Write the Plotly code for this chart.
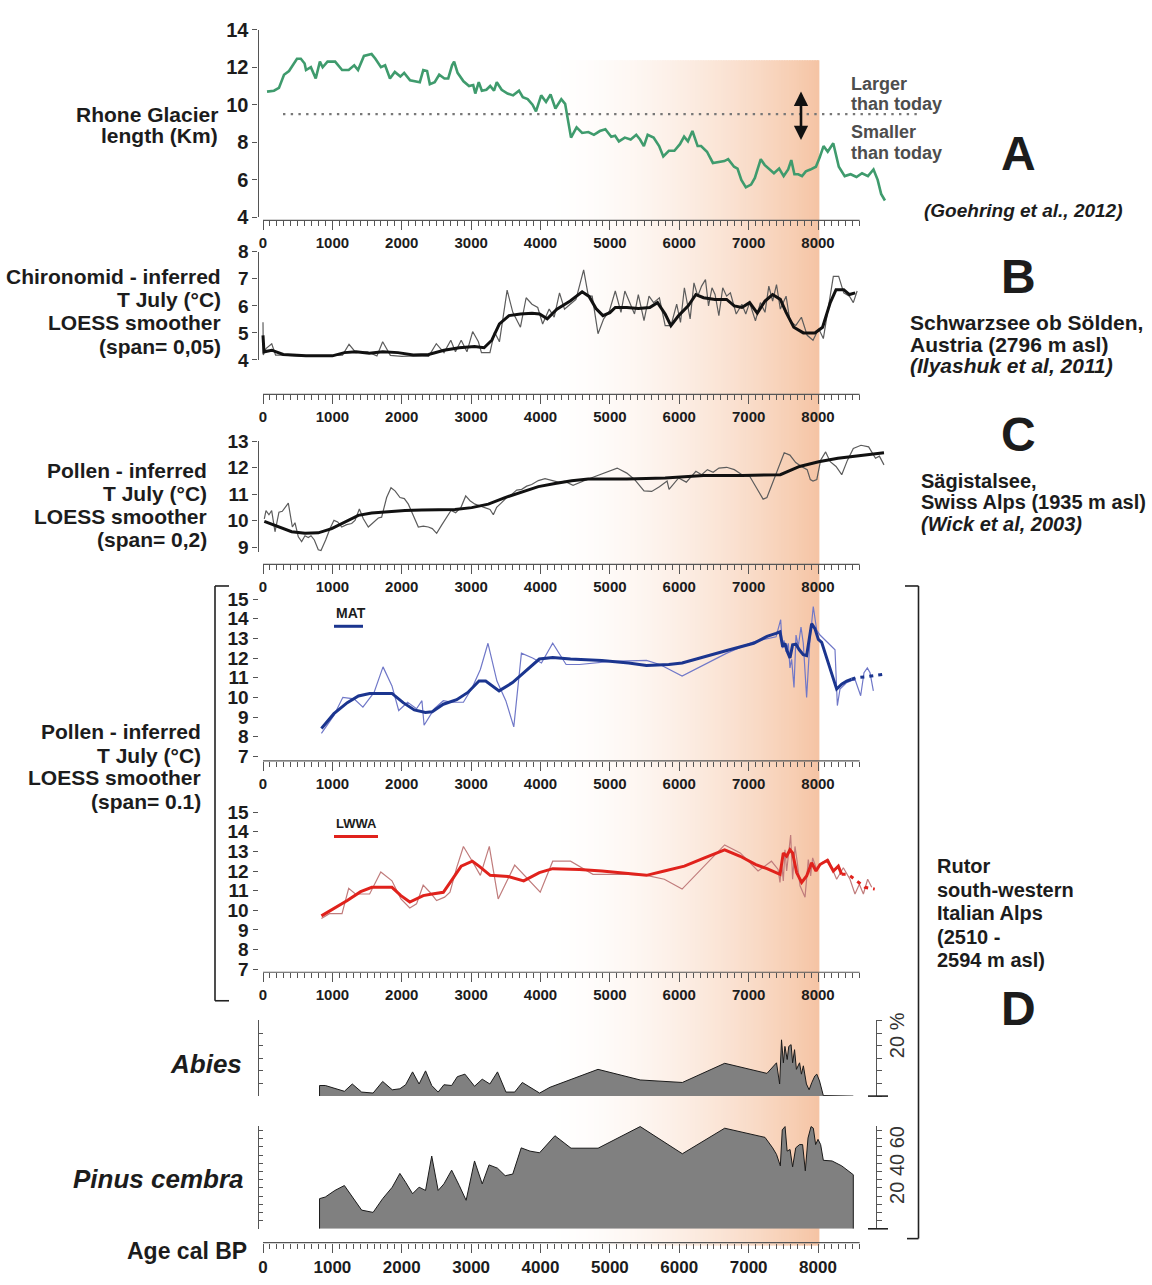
import plotly.graph_objects as go

W, H = 1152, 1285

# ------------------------------------------------------------------ data
AGE_TICKS = list(range(0, 8001, 1000))
AGE_MINOR = list(range(0, 8601, 100))

GLACIER_AGE = [58, 158, 230, 303, 375, 490, 545, 600, 620, 690,
               760, 820, 860, 930, 1040, 1140, 1235, 1315, 1370, 1455,
               1565, 1620, 1700, 1760, 1830, 1900, 1980, 2035, 2120, 2200,
               2260, 2310, 2365, 2405, 2475, 2540, 2615, 2670, 2725, 2755,
               2805, 2890, 2970, 3030, 3060, 3110, 3155, 3220, 3275, 3330,
               3370, 3440, 3525, 3605, 3690, 3745, 3815, 3885, 3935, 4010,
               4080, 4145, 4215, 4300, 4355, 4440, 4520, 4600, 4690, 4770,
               4855, 4935, 5020, 5075, 5130, 5215, 5300, 5380, 5435, 5490,
               5545, 5630, 5710, 5770, 5850, 5930, 6010, 6070, 6125, 6190,
               6265, 6315, 6400, 6485, 6570, 6650, 6705, 6790, 6840, 6895,
               6960, 7035, 7090, 7175, 7230, 7285, 7365, 7440, 7505, 7570,
               7615, 7660, 7715, 7770, 7825, 7890, 7970, 8025, 8080, 8140,
               8220, 8300, 8385, 8470, 8555, 8635, 8720, 8800, 8860, 8910,
               8965]
GLACIER_KM = [10.7, 10.75, 10.9, 11.6, 11.8, 12.45, 12.45, 12.2, 11.85, 12.0,
              11.4, 12.3, 12.0, 12.3, 12.3, 11.85, 11.85, 12.1, 11.85, 12.6,
              12.7, 12.45, 12.0, 12.1, 11.4, 11.75, 11.5, 11.7, 11.3, 11.25,
              11.2, 11.85, 11.8, 11.1, 11.2, 11.6, 11.4, 11.4, 12.1, 12.3,
              11.7, 11.25, 11.0, 11.05, 10.6, 11.2, 10.75, 10.8, 11.0, 10.75,
              11.2, 10.8, 10.6, 10.5, 10.75, 10.4, 10.3, 10.0, 9.65, 10.5,
              10.15, 10.55, 9.8, 10.3, 10.05, 8.25, 8.8, 8.5, 8.55, 8.4,
              8.6, 8.7, 8.3, 8.35, 8.05, 8.25, 8.15, 8.4, 8.15, 7.8,
              8.4, 8.25, 7.8, 7.25, 7.55, 7.55, 7.9, 8.3, 8.05, 8.6,
              7.8, 7.8, 7.5, 6.9, 6.95, 7.0, 7.1, 6.7, 6.6, 6.0,
              5.6, 5.75, 6.1, 7.1, 6.8, 6.6, 6.35, 6.6, 6.2, 6.55,
              7.05, 6.3, 6.3, 6.2, 6.45, 6.55, 6.7, 7.2, 7.8, 7.5,
              7.95, 6.7, 6.2, 6.3, 6.15, 6.35, 6.2, 6.55, 6.0, 5.25,
              4.9]
GLACIER_TODAY_KM = 9.5

CHIRO_RAW_AGE = [0, 4, 43, 126, 181, 292, 500, 800, 1063, 1146,
                 1240, 1339, 1504, 1642, 1725, 1836, 2000, 2200, 2387, 2498,
                 2609, 2707, 2774, 2857, 2940, 3022, 3105, 3149, 3271, 3337,
                 3408, 3480, 3519, 3601, 3711, 3793, 3877, 3960, 4031, 4125,
                 4197, 4274, 4346, 4428, 4511, 4622, 4690, 4745, 4829, 4911,
                 4994, 5078, 5160, 5216, 5299, 5355, 5410, 5492, 5564, 5630,
                 5714, 5797, 5880, 5963, 6018, 6074, 6157, 6212, 6267, 6322,
                 6378, 6422, 6472, 6516, 6571, 6627, 6683, 6737, 6821, 6903,
                 6959, 7014, 7098, 7170, 7236, 7291, 7346, 7402, 7457, 7540,
                 7595, 7679, 7761, 7844, 7928, 8010, 8077, 8149, 8221, 8298,
                 8371, 8453, 8509, 8564]
CHIRO_RAW_T = [5.39, 4.18, 4.42, 4.60, 4.18, 4.18, 4.15, 4.13, 4.17, 4.18,
               4.58, 4.27, 4.30, 4.15, 4.67, 4.17, 4.13, 4.15, 4.13, 4.60,
               4.27, 4.73, 4.30, 4.73, 4.30, 5.05, 4.67, 4.27, 4.27, 5.03,
               4.67, 5.88, 6.58, 5.76, 5.21, 6.30, 6.06, 5.94, 5.33, 5.88,
               5.58, 6.48, 5.88, 6.06, 6.24, 7.33, 6.36, 6.36, 4.97, 5.52,
               5.82, 6.55, 5.76, 6.55, 6.00, 5.70, 6.42, 5.45, 6.36, 6.12,
               6.30, 5.27, 5.27, 6.06, 5.39, 6.67, 5.52, 6.85, 6.36, 6.73,
               6.97, 6.00, 6.67, 6.42, 5.64, 6.67, 6.36, 6.48, 5.70, 6.06,
               5.70, 6.12, 5.45, 6.12, 5.76, 6.73, 6.18, 6.79, 5.88, 6.36,
               5.45, 5.27, 5.58, 4.91, 4.73, 5.15, 4.79, 6.00, 7.09, 7.09,
               6.48, 6.36, 6.12, 6.55]
CHIRO_LOESS_AGE = [0, 14, 126, 292, 620, 1000, 1173, 1339, 1532, 1725,
                   1946, 2166, 2387, 2609, 2829, 3049, 3187, 3298, 3408, 3546,
                   3711, 3877, 3987, 4097, 4236, 4428, 4600, 4700, 4800, 4900,
                   5000, 5078, 5244, 5410, 5575, 5686, 5797, 5880, 5991, 6129,
                   6240, 6350, 6516, 6683, 6793, 6903, 7014, 7125, 7236, 7346,
                   7457, 7540, 7651, 7789, 7955, 8066, 8177, 8260, 8371, 8453,
                   8536]
CHIRO_LOESS_T = [4.91, 4.30, 4.36, 4.20, 4.15, 4.15, 4.27, 4.30, 4.25, 4.30,
                 4.27, 4.18, 4.20, 4.36, 4.45, 4.50, 4.45, 4.73, 5.33, 5.64,
                 5.70, 5.73, 5.70, 5.52, 5.88, 6.18, 6.52, 6.35, 5.90, 5.64,
                 5.75, 5.94, 5.94, 5.90, 5.94, 6.12, 5.70, 5.27, 5.64, 6.00,
                 6.42, 6.30, 6.24, 6.24, 6.00, 5.94, 6.12, 5.73, 6.18, 6.42,
                 6.24, 5.76, 5.21, 5.00, 5.00, 5.21, 6.12, 6.60, 6.60, 6.42,
                 6.48]

SAG_RAW_AGE = [19, 43, 86, 125, 173, 230, 278, 365, 423, 461,
               509, 557, 605, 653, 692, 740, 797, 836, 903, 966,
               1023, 1076, 1134, 1206, 1278, 1326, 1389, 1446, 1518, 1590,
               1662, 1710, 1782, 1845, 1903, 1975, 2037, 2095, 2167, 2239,
               2311, 2383, 2440, 2503, 2575, 2647, 2710, 2777, 2854, 2922,
               2984, 3056, 3114, 3200, 3272, 3320, 3368, 3440, 3513, 3585,
               3657, 3729, 3801, 3873, 3969, 4065, 4161, 4257, 4353, 4469,
               4690, 4911, 5105, 5244, 5355, 5492, 5603, 5714, 5825, 5853,
               5991, 6102, 6240, 6323, 6406, 6488, 6572, 6683, 6794, 6904,
               7015, 7125, 7209, 7264, 7346, 7429, 7513, 7595, 7679, 7761,
               7844, 7889, 7928, 7983, 8038, 8110, 8176, 8260, 8342, 8425,
               8509, 8620, 8730, 8829, 8885, 8951]
SAG_RAW_T = [10.07, 10.38, 10.22, 10.38, 9.58, 10.32, 10.35, 10.66, 9.76, 9.92,
             9.39, 9.21, 9.43, 9.36, 9.43, 9.27, 8.90, 8.87, 9.27, 9.70,
             10.01, 9.95, 9.76, 9.85, 9.89, 10.01, 10.44, 10.07, 9.76, 9.95,
             10.10, 10.13, 10.87, 11.24, 11.12, 10.87, 10.83, 10.62, 10.20, 9.76,
             9.79, 9.76, 9.70, 9.52, 9.83, 10.10, 10.38, 10.30, 10.50, 10.93,
             10.75, 10.62, 10.56, 10.50, 10.42, 10.22, 10.50, 10.68, 10.87, 10.99,
             11.15, 11.18, 11.30, 11.36, 11.51, 11.58, 11.51, 11.45, 11.48, 11.33,
             11.57, 11.79, 11.98, 11.79, 11.55, 11.12, 11.10, 11.28, 11.49, 11.18,
             11.61, 11.45, 11.86, 11.73, 11.92, 11.82, 11.98, 12.01, 11.92, 11.73,
             11.67, 11.18, 10.81, 10.87, 11.43, 12.04, 12.56, 12.47, 12.19, 12.04,
             11.92, 11.55, 11.49, 11.55, 12.28, 12.59, 12.22, 12.04, 11.73, 12.28,
             12.72, 12.84, 12.78, 12.35, 12.43, 12.10]
SAG_LOESS_AGE = [19, 221, 413, 605, 797, 990, 1182, 1374, 1566, 1806,
                 2047, 2287, 2527, 2767, 3008, 3248, 3488, 3729, 3969, 4209,
                 4449, 4690, 5244, 5797, 6350, 6904, 7457, 7734, 8010, 8287,
                 8564, 8951]
SAG_LOESS_T = [9.97, 9.76, 9.58, 9.52, 9.54, 9.70, 9.95, 10.20, 10.29, 10.34,
               10.38, 10.40, 10.42, 10.42, 10.49, 10.62, 10.87, 11.08, 11.28, 11.40,
               11.50, 11.57, 11.57, 11.61, 11.70, 11.70, 11.73, 12.04, 12.22, 12.35,
               12.43, 12.56]

MAT_RAW_AGE = [842, 1022, 1151, 1312, 1440, 1601, 1730, 1859, 1956, 2084,
               2213, 2291, 2322, 2470, 2599, 2728, 2889, 3017, 3133, 3243,
               3372, 3500, 3615, 3725, 3886, 4014, 4176, 4369, 4562, 5012,
               5527, 5720, 6041, 6364, 6686, 7072, 7265, 7360, 7395, 7462,
               7486, 7510, 7539, 7572, 7596, 7620, 7654, 7683, 7716, 7755,
               7788, 7836, 7884, 7932, 7981, 8029, 8245, 8279, 8317, 8413,
               8533, 8615, 8663, 8711, 8750, 8798]
MAT_RAW_T = [8.17, 9.08, 10.00, 9.92, 9.50, 10.25, 11.55, 10.58, 9.33, 9.75,
             9.42, 9.83, 8.58, 9.42, 9.83, 9.75, 9.75, 10.50, 11.42, 12.75,
             10.83, 9.83, 8.50, 12.25, 12.00, 11.75, 12.75, 11.67, 11.67, 11.83,
             11.88, 11.67, 11.08, 11.67, 12.25, 12.83, 13.00, 13.08, 13.08, 13.95,
             12.50, 12.90, 12.33, 12.75, 11.50, 11.93, 10.50, 13.17, 12.60, 13.58,
             12.75, 10.00, 12.92, 14.62, 13.42, 13.17, 12.42, 9.58, 10.42, 10.75,
             10.92, 10.08, 11.25, 11.50, 11.25, 10.33]
MAT_LOESS_AGE = [842, 1022, 1215, 1376, 1537, 1859, 2020, 2181, 2341, 2438,
                 2599, 2792, 2953, 3114, 3210, 3403, 3597, 3790, 3983, 4176,
                 4433, 4884, 5270, 5527, 5849, 6041, 6364, 6686, 7072, 7265,
                 7395, 7452, 7491, 7524, 7557, 7596, 7634, 7682, 7730, 7788,
                 7836, 7908, 7956, 8005, 8053, 8269, 8341, 8413, 8485]
MAT_LOESS_T = [8.42, 9.17, 9.73, 10.07, 10.20, 10.20, 9.73, 9.36, 9.23, 9.27,
               9.65, 9.88, 10.25, 10.83, 10.83, 10.33, 10.75, 11.33, 11.95, 12.03,
               11.95, 11.88, 11.75, 11.62, 11.67, 11.75, 12.05, 12.38, 12.75, 13.10,
               13.25, 13.33, 12.58, 12.75, 12.33, 12.00, 12.67, 12.70, 12.42, 12.17,
               12.12, 13.75, 13.50, 12.95, 12.80, 10.42, 10.67, 10.83, 10.92]
MAT_LOESS_DASH_AGE = [8485, 8548, 8700, 8937]
MAT_LOESS_DASH_T = [10.92, 11.00, 11.05, 11.17]

LWWA_RAW_AGE = [842, 958, 1139, 1235, 1332, 1537, 1698, 1859, 1988, 2116,
                2213, 2309, 2406, 2502, 2618, 2695, 2792, 2889, 3017, 3133,
                3262, 3390, 3628, 3821, 3996, 4176, 4433, 4756, 5270, 5527,
                5785, 6041, 6364, 6654, 6879, 7136, 7329, 7425, 7452, 7476,
                7500, 7524, 7548, 7572, 7606, 7634, 7668, 7702, 7741, 7813,
                7860, 7894, 7923, 7981, 8053, 8149, 8269, 8365, 8461, 8533,
                8596, 8654, 8716, 8774]
LWWA_RAW_T = [9.58, 9.83, 9.83, 11.12, 10.83, 10.83, 11.95, 11.50, 10.58, 10.12,
              10.33, 11.28, 10.92, 10.50, 10.67, 10.92, 12.17, 13.25, 12.50, 11.78,
              13.25, 10.58, 12.30, 11.58, 10.92, 12.50, 12.50, 11.83, 11.83, 11.78,
              11.58, 11.08, 12.25, 13.33, 12.92, 12.00, 12.50, 12.08, 11.42, 12.42,
              11.50, 13.08, 12.00, 12.92, 13.83, 11.58, 13.25, 12.42, 11.25, 10.67,
              12.58, 11.75, 12.67, 12.08, 12.42, 12.58, 11.58, 12.17, 11.58, 10.83,
              11.33, 10.83, 11.58, 11.17]
LWWA_LOESS_AGE = [842, 1022, 1215, 1408, 1569, 1859, 1988, 2116, 2309, 2438,
                  2599, 2728, 2857, 3017, 3114, 3275, 3532, 3758, 3983, 4176,
                  4562, 4884, 5270, 5527, 5785, 6074, 6364, 6654, 6879, 7104,
                  7265, 7425, 7452, 7500, 7548, 7596, 7634, 7692, 7764, 7836,
                  7908, 7971, 8029, 8135, 8221, 8293, 8341]
LWWA_LOESS_T = [9.72, 10.08, 10.50, 10.95, 11.17, 11.17, 10.75, 10.42, 10.75, 10.83,
                10.92, 11.58, 12.25, 12.50, 12.25, 11.78, 11.72, 11.50, 11.92, 12.12,
                12.08, 12.00, 11.88, 11.78, 12.00, 12.25, 12.67, 13.08, 12.75, 12.33,
                12.12, 11.88, 11.83, 12.92, 12.75, 13.08, 12.92, 11.92, 11.42, 11.75,
                12.42, 12.00, 12.33, 12.55, 12.00, 12.25, 11.83]
LWWA_LOESS_DASH_AGE = [8341, 8436, 8557, 8677, 8818]
LWWA_LOESS_DASH_T = [11.83, 11.83, 11.50, 11.17, 11.08]

ABIES_AGE = [815, 815, 898, 1036, 1173, 1287, 1422, 1587, 1725, 1863,
             1973, 2056, 2156, 2250, 2343, 2432, 2525, 2608, 2719, 2801,
             2911, 3049, 3160, 3270, 3380, 3502, 3628, 3738, 3987, 4137,
             4829, 5437, 6045, 6655, 7264, 7402, 7447, 7474, 7501, 7523,
             7556, 7579, 7612, 7634, 7662, 7689, 7734, 7761, 7789, 7833,
             7872, 7911, 7955, 7983, 8022, 8077, 8509]
ABIES_PCT = [0, 4.2, 4.2, 3.1, 1.9, 4.8, 1.6, 1.2, 5.8, 2.5,
             2.9, 4.5, 9.6, 4.8, 10.0, 4.2, 1.6, 4.5, 4.2, 7.7,
             8.7, 3.9, 6.7, 4.8, 9.6, 1.6, 1.6, 5.4, 1.2, 3.5,
             10.6, 6.4, 5.4, 13.0, 9.0, 13.2, 4.8, 22.3, 13.2, 19.7,
             14.5, 19.7, 20.4, 13.2, 18.4, 10.6, 13.2, 8.7, 12.0, 4.8,
             2.5, 5.4, 8.0, 8.7, 6.0, 0.2, 0]

PINUS_AGE = [815, 815, 898, 1036, 1173, 1422, 1587, 1725, 1863, 1973,
             2056, 2156, 2250, 2343, 2432, 2525, 2608, 2719, 2829, 2928,
             3049, 3160, 3259, 3380, 3491, 3600, 3722, 3849, 3987, 4208,
             4440, 4830, 5437, 6045, 6655, 7236, 7346, 7402, 7457, 7485,
             7525, 7555, 7597, 7634, 7679, 7734, 7778, 7817, 7856, 7900,
             7933, 7966, 8000, 8038, 8077, 8203, 8342, 8509, 8509]
PINUS_PCT = [0, 18.4, 19.4, 23.4, 26.4, 11.4, 10.0, 18.4, 25.4, 33.8,
             28.4, 21.4, 25.4, 23.4, 44.4, 23.4, 27.4, 35.8, 26.4, 17.4,
             41.4, 27.4, 39.0, 37.0, 32.4, 33.4, 49.4, 47.4, 46.4, 56.8,
             49.2, 49.2, 62.4, 45.8, 61.4, 55.8, 49.4, 45.4, 38.4, 60.4,
             62.4, 47.4, 48.4, 37.8, 49.4, 51.4, 51.4, 35.4, 55.4, 62.4,
             61.4, 51.4, 54.6, 51.4, 41.8, 41.4, 38.4, 33.0, 0]

SHADE_START, SHADE_END = 4000, 8020

for a, b in [(GLACIER_AGE, GLACIER_KM), (CHIRO_RAW_AGE, CHIRO_RAW_T),
             (CHIRO_LOESS_AGE, CHIRO_LOESS_T), (SAG_RAW_AGE, SAG_RAW_T),
             (SAG_LOESS_AGE, SAG_LOESS_T), (MAT_RAW_AGE, MAT_RAW_T),
             (MAT_LOESS_AGE, MAT_LOESS_T), (LWWA_RAW_AGE, LWWA_RAW_T),
             (LWWA_LOESS_AGE, LWWA_LOESS_T), (ABIES_AGE, ABIES_PCT),
             (PINUS_AGE, PINUS_PCT)]:
    assert len(a) == len(b), (len(a), len(b))

# ------------------------------------------------------------------ style
FONT = "Liberation Sans, Arial, sans-serif"
TXT = "#1c1c1c"
AX = "#555555"
GREEN = "#3f9b6d"
THIN_GRAY = "#5c5c5c"
THICK = "#111111"
MAT_THIN, MAT_THICK = "#7078c8", "#1b358f"
LW_THIN, LW_THICK = "#c07c7c", "#e0221c"
FILL = "#808080"
PEACH = (245, 196, 164)


def pxx(p):
    return p / W


def pyy(p):
    return 1 - p / H


X0_PX, PX_PER_YR = 263.0, 0.069375
XD = (258.5, 887.5)
XRANGE = [(XD[0] - X0_PX) / PX_PER_YR, (XD[1] - X0_PX) / PX_PER_YR]


def ax_id(n):
    return "" if n == 1 else str(n)


fig = go.Figure()


def add_line(x, y, n, color, width, dash=None):
    fig.add_trace(go.Scatter(x=x, y=y, xaxis="x" + ax_id(n), yaxis="y" + ax_id(n),
                             mode="lines", line=dict(color=color, width=width, dash=dash),
                             showlegend=False, hoverinfo="skip"))


# Panel A
add_line(GLACIER_AGE, GLACIER_KM, 1, GREEN, 2.6)
# Panel B
add_line(CHIRO_RAW_AGE, CHIRO_RAW_T, 2, THIN_GRAY, 1.2)
add_line(CHIRO_LOESS_AGE, CHIRO_LOESS_T, 2, THICK, 3)
# Panel C
add_line(SAG_RAW_AGE, SAG_RAW_T, 3, THIN_GRAY, 1.2)
add_line(SAG_LOESS_AGE, SAG_LOESS_T, 3, THICK, 3)
# Panel D - MAT
add_line(MAT_RAW_AGE, MAT_RAW_T, 4, MAT_THIN, 1.2)
add_line(MAT_LOESS_AGE, MAT_LOESS_T, 4, MAT_THICK, 3)
add_line(MAT_LOESS_DASH_AGE, MAT_LOESS_DASH_T, 4, MAT_THICK, 3, "4px,5px")
# Panel D - LWWA
add_line(LWWA_RAW_AGE, LWWA_RAW_T, 5, LW_THIN, 1.2)
add_line(LWWA_LOESS_AGE, LWWA_LOESS_T, 5, LW_THICK, 3)
add_line(LWWA_LOESS_DASH_AGE, LWWA_LOESS_DASH_T, 5, LW_THICK, 3, "4px,5px")
# Abies / Pinus silhouettes
for n, (a, p) in [(6, (ABIES_AGE, ABIES_PCT)), (7, (PINUS_AGE, PINUS_PCT))]:
    fig.add_trace(go.Scatter(x=a, y=p, xaxis="x" + ax_id(n), yaxis="y" + ax_id(n),
                             mode="lines", fill="toself", fillcolor=FILL,
                             line=dict(color="#1a1a1a", width=1),
                             showlegend=False, hoverinfo="skip"))
# carriers for the right-hand percentage scales
fig.add_trace(go.Scatter(x=[None], y=[None], xaxis="x6", yaxis="y8", showlegend=False))
fig.add_trace(go.Scatter(x=[None], y=[None], xaxis="x7", yaxis="y9", showlegend=False))


def xaxis(base_px, visible=True, size=15):
    return dict(domain=[pxx(XD[0]), pxx(XD[1])], range=XRANGE, anchor="free",
                position=pyy(base_px), visible=visible, showline=False, showgrid=False,
                zeroline=False, tickmode="array", tickvals=AGE_TICKS,
                ticktext=[str(v) for v in AGE_TICKS], ticks="outside", ticklen=9,
                tickwidth=1, tickcolor=AX,
                minor=dict(tickmode="array", tickvals=AGE_MINOR, ticks="outside",
                           ticklen=5, tickwidth=1, tickcolor=AX),
                tickfont=dict(family=FONT, size=size, color=TXT, weight="bold"),
                fixedrange=True)


def yaxis(top_px, bot_px, rng, tickvals, anchor, showline=True, ticks="outside",
          labels=True, size=19, ticklen=5):
    return dict(domain=[pyy(bot_px), pyy(top_px)], range=rng, anchor=anchor,
                tickmode="array", tickvals=tickvals, ticks=ticks, ticklen=ticklen,
                tickwidth=1, tickcolor=AX, showline=showline, linecolor=AX,
                linewidth=1.2, showgrid=False, zeroline=False, showticklabels=labels,
                tickfont=dict(family=FONT, size=size, color=TXT, weight="bold"),
                fixedrange=True)


layout = dict(
    width=W, height=H, autosize=False, margin=dict(l=0, r=0, t=0, b=0),
    paper_bgcolor="white", plot_bgcolor="rgba(0,0,0,0)", showlegend=False,
    font=dict(family=FONT, color=TXT),
    xaxis=xaxis(213), xaxis2=xaxis(390), xaxis3=xaxis(563), xaxis4=xaxis(763),
    xaxis5=xaxis(978), xaxis6=xaxis(1253, visible=False), xaxis7=xaxis(1253, size=17),
    yaxis=yaxis(19, 210, [4, 14], [4, 6, 8, 10, 12, 14], "x", size=20),
    yaxis2=yaxis(245, 355, [4, 8], [4, 5, 6, 7, 8], "x2"),
    yaxis3=yaxis(437.5, 550.9, [8.8, 13], [9, 10, 11, 12, 13], "x3"),
    yaxis4=yaxis(598.3, 758.3, [7, 15], list(range(7, 16)), "x4", showline=False),
    yaxis5=yaxis(815, 975, [7, 15], list(range(7, 16)), "x5", showline=False),
    yaxis6=yaxis(1027, 1104, [0, 30], list(range(0, 31, 5)), "x6", ticks="inside",
                 labels=False, ticklen=4),
    yaxis7=yaxis(1134, 1239, [0, 63], list(range(0, 61, 5)), "x7", ticks="inside",
                 labels=False, ticklen=4),
)
y8 = yaxis(1027, 1104, [0, 30], list(range(0, 31, 5)), "free", labels=False, ticklen=5)
y8.update(overlaying="y6", side="right", position=pxx(875.5))
y9 = yaxis(1134, 1239, [0, 63], list(range(0, 61, 5)), "free", labels=False, ticklen=5)
y9.update(overlaying="y7", side="right", position=pxx(875.5))
layout["yaxis8"] = y8
layout["yaxis9"] = y9
fig.update_layout(**layout)

shapes = []
# warm-period gradient band
N = 110
dx = (SHADE_END - SHADE_START) / N
for i in range(N):
    t = (i + 0.5) / N
    a = t ** 1.8
    col = "rgb(%d,%d,%d)" % tuple(round(255 - a * (255 - c)) for c in PEACH)
    shapes.append(dict(type="rect", xref="x", yref="paper",
                       x0=SHADE_START + i * dx, x1=min(SHADE_START + (i + 1.6) * dx, SHADE_END),
                       y0=pyy(1256), y1=pyy(50), fillcolor=col, line=dict(width=0),
                       layer="below"))
# axis baselines 0 - 8600
for base in [213, 390, 563, 763, 978, 1253]:
    shapes.append(dict(type="line", xref="x", yref="paper", x0=0, x1=8600,
                       y0=pyy(base), y1=pyy(base), line=dict(color=AX, width=1.2)))
# present-day glacier length
shapes.append(dict(type="line", xref="paper", yref="y", x0=pxx(283), x1=pxx(919),
                   y0=GLACIER_TODAY_KM, y1=GLACIER_TODAY_KM,
                   line=dict(color="#777777", width=2.4, dash="2.4px,5.3px")))
# legend swatches
shapes.append(dict(type="line", xref="paper", yref="paper", x0=pxx(334), x1=pxx(363),
                   y0=pyy(626), y1=pyy(626), line=dict(color=MAT_THICK, width=3)))
shapes.append(dict(type="line", xref="paper", yref="paper", x0=pxx(334), x1=pxx(378),
                   y0=pyy(840), y1=pyy(840), line=dict(color=LW_THICK, width=3)))
# brackets and scale feet
BR = dict(color="#222222", width=1.6)
for (x0, y0, x1, y1) in [(215, 585, 215, 1007), (215, 585, 229, 585), (215, 1007, 229, 1007),
                         (918.5, 585, 918.5, 1249), (905, 585, 918.5, 585),
                         (907, 1249, 918.5, 1249),
                         (868, 1104, 888, 1104), (868, 1239, 888, 1239)]:
    shapes.append(dict(type="line", xref="paper", yref="paper", x0=pxx(x0), x1=pxx(x1),
                       y0=pyy(y0), y1=pyy(y1), line=BR))
fig.update_layout(shapes=shapes)


def text(x, y, s, size, anchor="left", color=TXT, angle=0):
    fig.add_annotation(x=pxx(x), y=pyy(y), xref="paper", yref="paper", text=s,
                       showarrow=False, xanchor=anchor, yanchor="middle",
                       textangle=angle, font=dict(family=FONT, size=size, color=color))


def block(x, ys, lines, size, anchor):
    for yy, s in zip(ys, lines):
        text(x, yy, s, size, anchor)


# left labels
block(220, [105, 127], ["<b>Rhone Glacier</b>", "<b>length (Km)</b>"], 21, "right")
block(223, [270, 294, 317, 341], ["<b>Chironomid - inferred</b>", "<b>T July (°C)</b>",
                                  "<b>LOESS smoother</b>", "<b>(span= 0,05)</b>"], 21, "right")
block(209, [467, 491, 514, 538], ["<b>Pollen - inferred</b>", "<b>T July (°C)</b>",
                                  "<b>LOESS smoother</b>", "<b>(span= 0,2)</b>"], 21, "right")
block(203, [733, 757, 780, 804], ["<b>Pollen - inferred</b>", "<b>T July (°C)</b>",
                                  "<b>LOESS smoother</b>", "<b>(span= 0.1)</b>"], 21, "right")
text(244, 1071, "<b><i>Abies</i></b>", 26, "right")
text(246, 1188, "<b><i>Pinus cembra</i></b>", 26, "right")
text(249, 1262, "<b>Age cal BP</b>", 23, "right")

# panel A annotations
for yy, s in [(74, "Larger"), (95, "than today"), (123, "Smaller"), (144, "than today")]:
    text(849, yy, "<b>%s</b>" % s, 18, "left", color="#4d4d4d")
fig.add_annotation(x=pxx(801), y=pyy(82), xref="paper", yref="paper", ax=0, ay=50,
                   text="", showarrow=True, arrowhead=2, arrowside="end+start",
                   arrowsize=1.1, arrowwidth=2.6, arrowcolor="#111111")

# right labels
for yy, s in [(145, "A"), (270, "B"), (431, "C"), (1015, "D")]:
    text(1018, yy, "<b>%s</b>" % s, 48, "center")
text(1023, 203, "<b><i>(Goehring et al., 2012)</i></b>", 19, "center")
block(908, [317, 339, 361], ["<b>Schwarzsee ob Sölden,</b>", "<b>Austria (2796 m asl)</b>",
                             "<b><i>(Ilyashuk et al, 2011)</i></b>"], 21, "left")
block(919, [478, 500, 522], ["<b>Sägistalsee,</b>", "<b>Swiss Alps (1935 m asl)</b>",
                             "<b><i>(Wick et al, 2003)</i></b>"], 20, "left")
block(935, [870, 894, 918, 942, 966], ["<b>Rutor</b>", "<b>south-western</b>",
                                       "<b>Italian Alps</b>", "<b>(2510 -</b>",
                                       "<b>2594 m asl)</b>"], 20, "left")
text(334, 612, "<b>MAT</b>", 14, "left")
text(334, 827, "<b>LWWA</b>", 13, "left")
text(897, 1042, "20 %", 20, "center", color="#333333", angle=-90)
text(897, 1174, "20 40 60", 20, "center", color="#333333", angle=-90)

fig.write_html("out.html")
